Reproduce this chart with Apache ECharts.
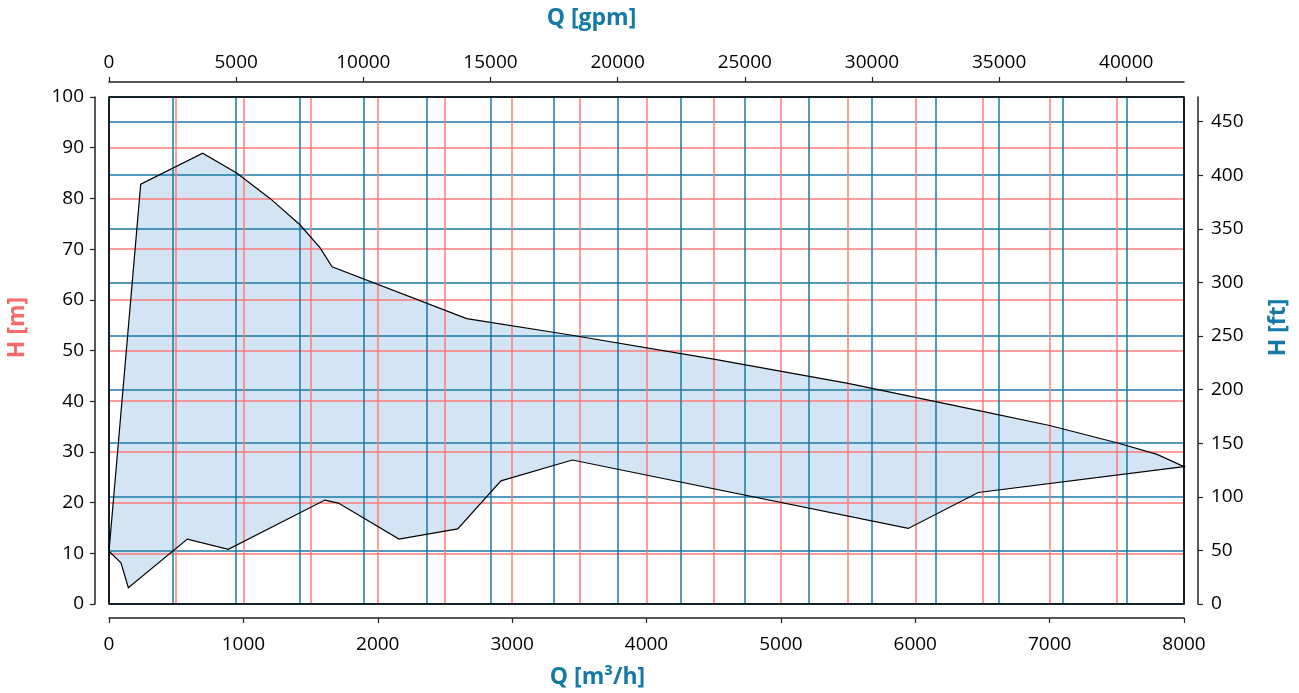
<!DOCTYPE html>
<html>
<head>
<meta charset="utf-8">
<script src="https://cdn.jsdelivr.net/npm/echarts@6/dist/echarts.min.js"></script>
<style>
html,body{margin:0;padding:0;background:#fff;}
#chart{width:1299px;height:693px;}
</style>
</head>
<body>
<div id="chart"></div>
<script>
// Upper boundary of the operating range (Q [m3/h], H [m])
const upperQ = [0, 236, 697, 950, 1198, 1421, 1570, 1660, 2662, 3400, 4500, 5500, 6500, 7000, 7500, 7800, 8000];
const upperH = [10.4, 82.8, 88.9, 85.0, 80.0, 74.8, 70.3, 66.5, 56.3, 53.2, 48.3, 43.5, 38.0, 35.2, 31.8, 29.5, 27.1];
// Lower boundary of the operating range
const lowerQ = [0, 89, 144, 583, 888, 1607, 1707, 2158, 2595, 2917, 3448, 5948, 6469, 8000];
const lowerH = [10.4, 8.1, 3.2, 12.8, 10.8, 20.5, 19.9, 12.8, 14.8, 24.3, 28.4, 14.9, 22.0, 27.1];

const qMax = 8000, gpmMax = 42270, hMax = 100, ftMax = 473;

const RED = '#ff7b7b', BLUE = '#1a78a6', RED_T = '#f86a6a', BLUE_T = '#1479a6';
const FONT = 'Open Sans';

function polyPoints(api) {
  const pts = [];
  for (let i = 0; i < upperQ.length; i++) pts.push(api.coord([upperQ[i], upperH[i]]));
  for (let i = lowerQ.length - 1; i >= 0; i--) pts.push(api.coord([lowerQ[i], lowerH[i]]));
  return pts;
}

const chart = echarts.init(document.getElementById('chart'), null, {renderer: 'canvas'});
const labelStyle = {color: '#000', fontFamily: FONT, fontSize: 19, formatter: v => String(v)};
const nameStyle = (c, pad) => ({color: c, fontFamily: FONT, fontSize: 23, fontWeight: 'bold', padding: pad});

chart.setOption({
  animation: false,
  grid: {left: 109, right: 115, top: 97, bottom: 89, outerBoundsMode: 'none', containLabel: false,
         show: true, z: 3, borderColor: '#000', borderWidth: 1.5, backgroundColor: 'transparent'},
  xAxis: [
    {
      type: 'value', position: 'bottom', min: 0, max: qMax, interval: 1000, offset: 14,
      name: 'Q [m³/h]', nameLocation: 'middle', nameGap: 48, nameTextStyle: nameStyle(BLUE_T, [0, 98, 0, 0]),
      axisLine: {show: true, onZero: false, lineStyle: {color: '#222', width: 1.5}},
      axisTick: {show: true, length: 5, lineStyle: {color: '#222', width: 1.2}},
      axisLabel: Object.assign({margin: 17}, labelStyle),
      splitLine: {show: true, lineStyle: {color: RED, width: 1.5}},
      minorTick: {show: false, splitNumber: 2},
      minorSplitLine: {show: true, lineStyle: {color: RED, width: 1.5}}
    },
    {
      type: 'value', position: 'top', min: 0, max: gpmMax, interval: 5000, offset: 15,
      name: 'Q [gpm]', nameLocation: 'middle', nameGap: 52, nameTextStyle: nameStyle(BLUE_T, [0, 110, 0, 0]),
      axisLine: {show: true, onZero: false, lineStyle: {color: '#222', width: 1.5}},
      axisTick: {show: true, length: 5, lineStyle: {color: '#222', width: 1.2}},
      axisLabel: Object.assign({margin: 10, showMaxLabel: false}, labelStyle),
      splitLine: {show: true, lineStyle: {color: BLUE, width: 1.5}},
      minorTick: {show: false, splitNumber: 2},
      minorSplitLine: {show: true, lineStyle: {color: BLUE, width: 1.5}}
    }
  ],
  yAxis: [
    {
      type: 'value', position: 'left', min: 0, max: hMax, interval: 10, offset: 14,
      name: 'H [m]', nameLocation: 'middle', nameGap: 66, nameRotate: 90, nameTextStyle: nameStyle(RED_T, [0, 0, 0, 46]),
      axisLine: {show: true, onZero: false, lineStyle: {color: '#222', width: 1.5}},
      axisTick: {show: true, length: 5, lineStyle: {color: '#222', width: 1.2}},
      axisLabel: Object.assign({margin: 11}, labelStyle),
      splitLine: {show: true, lineStyle: {color: RED, width: 1.5}}
    },
    {
      type: 'value', position: 'right', min: 0, max: ftMax, interval: 50, offset: 14,
      name: 'H [ft]', nameLocation: 'middle', nameGap: 69, nameRotate: 90, nameTextStyle: nameStyle(BLUE_T, [0, 0, 0, 46]),
      axisLine: {show: true, onZero: false, lineStyle: {color: '#222', width: 1.5}},
      axisTick: {show: true, length: 5, lineStyle: {color: '#222', width: 1.2}},
      axisLabel: Object.assign({margin: 13, showMaxLabel: false}, labelStyle),
      splitLine: {show: true, lineStyle: {color: BLUE, width: 1.5}}
    }
  ],
  series: [
    {
      type: 'custom', xAxisIndex: 0, yAxisIndex: 0, z: -1, silent: true,
      data: [[0, 0]],
      renderItem: function (params, api) {
        return {type: 'polygon', shape: {points: polyPoints(api)}, style: {fill: '#d3e5f4', stroke: null}};
      }
    },
    {
      type: 'custom', xAxisIndex: 0, yAxisIndex: 0, z: 5, silent: true,
      data: [[0, 0]],
      renderItem: function (params, api) {
        return {type: 'polygon', shape: {points: polyPoints(api)}, style: {fill: null, stroke: '#000', lineWidth: 1.2}};
      }
    }
  ]
});
</script>
</body>
</html>
